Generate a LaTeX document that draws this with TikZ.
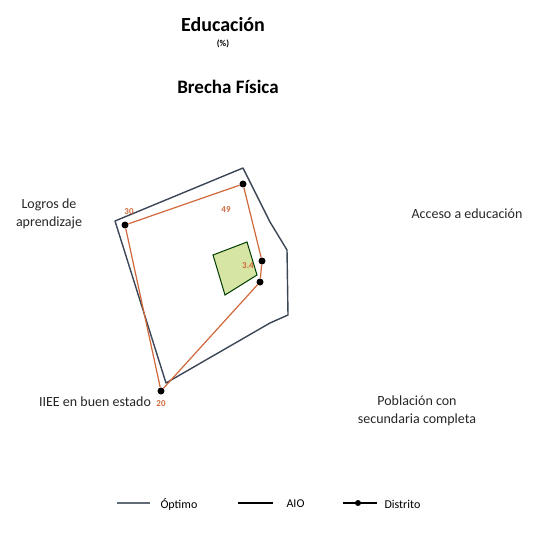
\documentclass[tikz,border=0pt]{standalone}
\usepackage{fontspec}
\setmainfont{Carlito}
\definecolor{contorno}{HTML}{3B4656}
\definecolor{distrito}{HTML}{D0683A}
\definecolor{verde}{HTML}{D6E4A4}
\tikzset{
  eje/.style={font=\fontsize{14}{18}\selectfont, align=center, text=black!85},
  punto/.style={circle, fill=black, inner sep=0pt, minimum size=7pt},
  valor/.style={font=\fontsize{9}{10}\selectfont\bfseries, text=distrito},
  leyenda/.style={font=\fontsize{12}{14}\selectfont, anchor=west}
}
\begin{document}
\begin{tikzpicture}[x=1pt,y=-1pt]
\useasboundingbox (0,0) rectangle (542,553);
% titulos
\node[font=\fontsize{20}{24}\selectfont\bfseries] (titulo) at (223,25) {Educación};
\node[font=\fontsize{9}{10}\selectfont\bfseries] (unidad) at (223,44) {(\%)};
\node[font=\fontsize{19}{22}\selectfont\bfseries] (brecha) at (228,87) {Brecha Física};
% ejes
\node[eje] (logros) at (49,214) {Logros de\\aprendizaje};
\node[eje] (acceso) at (467,214) {Acceso a educación};
\node[eje] (iiee) at (95,402) {IIEE en buen estado};
\node[eje] (poblacion) at (417,411) {Población con\\secundaria completa};
% cuadro verde
\draw[fill=verde, draw=black!60!green!60!black, line width=1pt] (213,255) -- (247,242) -- (257,275) -- (225,295) -- cycle;
% optimo / AIO
\coordinate (o1) at (115,221);
\coordinate (o2) at (243,168);
\coordinate (o3) at (270,222);
\coordinate (o4) at (287,250);
\coordinate (o5) at (288,315);
\coordinate (o6) at (270,323);
\coordinate (o7) at (166,383);
\draw[contorno, line width=1.4pt, line join=round] (o1) -- (o2) -- (o3) -- (o4) -- (o5) -- (o6) -- (o7) -- cycle; %Optimo y AIO
% distrito
\node[punto] (d1) at (125,225) {};
\node[punto] (d2) at (243,184) {};
\node[punto] (d3) at (262,261) {};
\node[punto] (d4) at (260,282) {};
\node[punto] (d5) at (161,391) {};
\draw[distrito, line width=1.2pt] (d1) -- (d2) -- (d3) -- (d4) -- (d5) -- (d1); %Distrito
\node[valor] (v1) at (129,212) {30};
\node[valor] (v2) at (226,210) {49};
\node[valor] (v3) at (248,266) {3.4};
\node[valor] (v4) at (161,404) {20};
% leyenda
\coordinate (l1a) at (117,503); \coordinate (l1b) at (150,503);
\draw[contorno!80, line width=1.2pt] (l1a) -- (l1b);
\node[leyenda] (optimo) at (157,504) {Óptimo};
\coordinate (l2a) at (238,503); \coordinate (l2b) at (273,503);
\draw[black, line width=1.6pt] (l2a) -- (l2b);
\node[leyenda] (aio) at (283,504) {AIO};
\coordinate (l3a) at (343,503); \coordinate (l3b) at (377,503);
\draw[black, line width=1.4pt] (l3a) -- (l3b);
\node[punto, minimum size=6pt] (l3m) at (358,503) {};
\node[leyenda] (distritoley) at (381,504) {Distrito};
\end{tikzpicture}
\end{document}
